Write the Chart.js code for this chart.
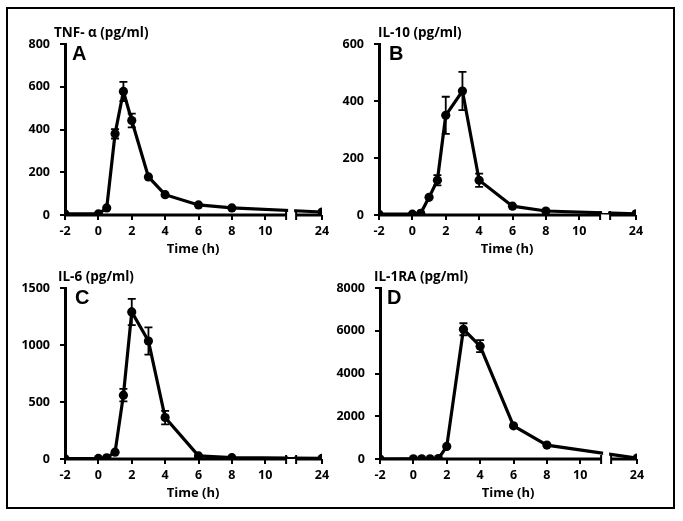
<!DOCTYPE html>
<html><head><meta charset="utf-8">
<script src="https://cdn.jsdelivr.net/npm/chart.js@4.4.1/dist/chart.umd.min.js"></script>
<style>
body{margin:0;background:#fff;width:683px;height:521px;position:relative;overflow:hidden}
#frame{position:absolute;left:6px;top:7px;width:665px;height:498px;border:2px solid #000}
canvas{position:absolute}
</style></head><body>
<div id="frame"></div>
<canvas id="cA" width="330" height="245" style="left:8px;top:10px"></canvas>
<canvas id="cB" width="330" height="245" style="left:322px;top:10px"></canvas>
<canvas id="cC" width="330" height="245" style="left:8px;top:254px"></canvas>
<canvas id="cD" width="330" height="245" style="left:323px;top:254px"></canvas>
<script>
// ---- data ----
const times = [-2, 0, 0.5, 1, 1.5, 2, 3, 4, 6, 8, 24];
const tnfMean = [5, 5, 33, 380, 578, 442, 178, 95, 47, 33, 14];
const tnfErr  = [0, 0, 0, 22, 45, 32, 0, 0, 0, 0, 0];
const il10Mean = [3, 3, 6, 62, 122, 350, 435, 122, 31, 14, 4];
const il10Err  = [0, 0, 0, 0, 18, 65, 67, 23, 0, 0, 0];
const il6Mean = [3, 5, 10, 60, 560, 1290, 1035, 363, 27, 12, 5];
const il6Err  = [0, 0, 0, 0, 55, 115, 120, 60, 0, 0, 0];
const il1raMean = [0, 10, 10, 10, 20, 590, 6070, 5280, 1550, 650, 40];
const il1raErr  = [0, 0, 0, 0, 0, 0, 280, 280, 0, 0, 0];
const xTickValues = [-2, 0, 2, 4, 6, 8, 10, 24];
const xTickLabels = ['-2', '0', '2', '4', '6', '8', '10', '24'];

// broken time axis: 24 h is drawn just after the break
const BREAK_START = 11.25, BREAK_END = 11.85, POS_24 = 13.4;
const mapT = t => (t >= 24 ? POS_24 : t);

const FONT = '"Open Sans", Lato, sans-serif';

const brk = {
  id: 'brk',
  afterDatasetsDraw(chart) {
    const {ctx, chartArea, scales: {x, y}} = chart;
    const cfg = chart.options.plugins.brk;
    const ds = chart.data.datasets[0];
    ctx.save();
    ctx.strokeStyle = '#000'; ctx.lineWidth = 1.8;
    ds.data.forEach((p, i) => {
      const e = cfg.err[i]; if (!e) return;
      const px = x.getPixelForValue(p.x);
      const y1 = y.getPixelForValue(p.y + e), y2 = y.getPixelForValue(p.y - e);
      ctx.beginPath();
      ctx.moveTo(px, y1); ctx.lineTo(px, y2);
      ctx.moveTo(px - 4, y1); ctx.lineTo(px + 4, y1);
      ctx.moveTo(px - 4, y2); ctx.lineTo(px + 4, y2);
      ctx.stroke();
    });
    const g1 = x.getPixelForValue(BREAK_START), g2 = x.getPixelForValue(BREAK_END);
    ctx.fillStyle = '#fff';
    ctx.fillRect(g1 + 2, chartArea.top, g2 - g1 - 4, chartArea.bottom - chartArea.top - 2);
    ctx.restore();
  },
  afterDraw(chart) {
    const {ctx, chartArea, scales: {x, y}} = chart;
    const cfg = chart.options.plugins.brk;
    const yb = y.getPixelForValue(0);
    ctx.save();
    ctx.strokeStyle = '#000'; ctx.lineWidth = 3;
    const a = x.getPixelForValue(-2) - 1, b = x.getPixelForValue(BREAK_START);
    const c = x.getPixelForValue(BREAK_END), d = x.getPixelForValue(POS_24);
    ctx.beginPath();
    ctx.moveTo(a, yb); ctx.lineTo(b, yb);
    ctx.moveTo(c, yb); ctx.lineTo(d, yb);
    ctx.stroke();
    ctx.lineWidth = 2;
    ctx.beginPath();
    ctx.moveTo(b, yb - 4); ctx.lineTo(b, yb + 5);
    ctx.moveTo(c, yb - 4); ctx.lineTo(c, yb + 5);
    ctx.stroke();
    ctx.fillStyle = '#000';
    ctx.textBaseline = 'alphabetic';
    ctx.textAlign = 'left';
    ctx.font = 'bold 13.5px ' + FONT;
    ctx.fillText(cfg.title, chartArea.left + cfg.titleDx, chartArea.top - 7);
    ctx.font = 'bold 20px "Liberation Sans", Arial, sans-serif';
    ctx.fillText(cfg.letter, chartArea.left + cfg.letterDx, chartArea.top + 16);
    ctx.textAlign = 'center';
    ctx.font = 'bold 13px ' + FONT;
    ctx.fillText('Time (h)', (a + d) / 2, yb + 38);
    ctx.restore();
  }
};

function makeChart(id, mean, err, yMax, yStep, title, letter, titleDx, letterDx) {
  new Chart(document.getElementById(id), {
    type: 'line',
    data: {
      datasets: [{
        data: times.map((t, i) => ({x: mapT(t), y: mean[i]})),
        borderColor: '#000', backgroundColor: '#000',
        borderWidth: 3.2, pointRadius: 4.6, pointBorderWidth: 0,
        pointBackgroundColor: '#000', tension: 0
      }]
    },
    options: {
      responsive: false, animation: false, devicePixelRatio: 1,
      layout: {padding: {top: 34, right: 16, left: 0, bottom: 0}},
      plugins: {
        legend: {display: false}, tooltip: {enabled: false},
        brk: {err, title, letter, titleDx, letterDx}
      },
      scales: {
        x: {
          type: 'linear', min: -2, max: POS_24,
          afterFit: s => { s.height = 40; },
          afterBuildTicks: s => { s.ticks = xTickValues.map(v => ({value: mapT(v)})); },
          grid: {drawOnChartArea: false, drawTicks: true, tickLength: 5, color: '#000', lineWidth: 2},
          border: {display: false},
          ticks: {
            autoSkip: false, maxRotation: 0, padding: 4, color: '#000',
            font: {family: FONT, size: 12.5, weight: 'bold'},
            callback: (v) => { const i = xTickValues.findIndex(t => mapT(t) === v); return i >= 0 ? xTickLabels[i] : ''; }
          }
        },
        y: {
          min: 0, max: yMax,
          afterFit: s => { s.width = 57; },
          grid: {drawOnChartArea: false, drawTicks: true, tickLength: 5, color: '#000', lineWidth: 2},
          border: {display: true, color: '#000', width: 3},
          ticks: {
            stepSize: yStep, padding: 10, color: '#000',
            font: {family: FONT, size: 12.5, weight: 'bold'},
            callback: v => String(v)
          }
        }
      }
    },
    plugins: [brk]
  });
}

makeChart('cA', tnfMean, tnfErr, 800, 200, 'TNF- α (pg/ml)', 'A', -11, 7);
makeChart('cB', il10Mean, il10Err, 600, 200, 'IL-10 (pg/ml)', 'B', -1, 10);
makeChart('cC', il6Mean, il6Err, 1500, 500, 'IL-6 (pg/ml)', 'C', -7, 10);
makeChart('cD', il1raMean, il1raErr, 8000, 2000, 'IL-1RA (pg/ml)', 'D', -6, 7);
</script>
</body></html>
